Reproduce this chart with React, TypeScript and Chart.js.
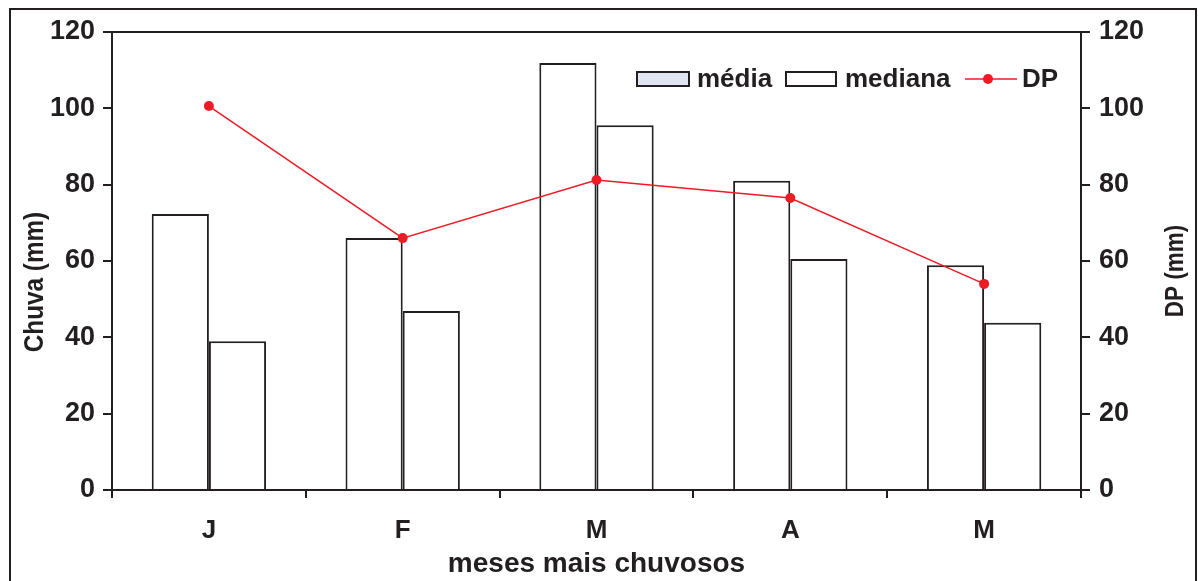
import React, { useEffect, useRef } from "react";
import { Chart, registerables } from "chart.js";

Chart.register(...registerables);

// Rainiest months and their rainfall statistics (mm)
const months = ["J", "F", "M", "A", "M"];
const media = [72.3, 66.0, 111.9, 81.0, 58.9];
const mediana = [39.0, 46.9, 95.6, 60.5, 43.8];
const dp = [100.6, 66.0, 81.2, 76.5, 54.0];
const yTicks = [0, 20, 40, 60, 80, 100, 120];

const INK = "#231f20";
const RED = "#ed1c24";
const FONT = "'Liberation Sans', Arial, sans-serif";

// Vertical axis title, slightly condensed along its length
function drawVerticalTitle(ctx: any, text: string, x: number, y: number, size: number) {
  ctx.save();
  ctx.translate(x, y);
  ctx.rotate(-Math.PI / 2);
  ctx.scale(0.9, 1);
  ctx.font = `bold ${size}px ${FONT}`;
  ctx.fillStyle = INK;
  ctx.textAlign = "center";
  ctx.textBaseline = "alphabetic";
  ctx.fillText(text, 0, 0);
  ctx.restore();
}

// Outer frame, top border of the plot box, axis titles and the inline legend
const decorPlugin = {
  id: "decor",
  beforeDraw(chart: any) {
    const { ctx, width } = chart;
    ctx.save();
    ctx.fillStyle = "#ffffff";
    ctx.fillRect(0, 0, width, chart.height);
    ctx.strokeStyle = INK;
    ctx.lineWidth = 2;
    ctx.beginPath();
    ctx.moveTo(10, 600);
    ctx.lineTo(10, 9);
    ctx.lineTo(width - 2, 9);
    ctx.lineTo(width - 2, 600);
    ctx.stroke();
    ctx.restore();
  },
  afterDraw(chart: any) {
    const { ctx, chartArea } = chart;
    ctx.save();
    ctx.strokeStyle = INK;
    ctx.lineWidth = 2;
    ctx.beginPath();
    ctx.moveTo(chartArea.left, chartArea.top);
    ctx.lineTo(chartArea.right, chartArea.top);
    ctx.stroke();

    const midY = (chartArea.top + chartArea.bottom) / 2;
    drawVerticalTitle(ctx, "Chuva (mm)", 43, midY + 21, 27);
    drawVerticalTitle(ctx, "DP (mm)", chartArea.right + 102, midY + 10, 25);

    const y = 79;
    const x0 = chartArea.right - 444;
    ctx.font = `bold 26px ${FONT}`;
    ctx.textBaseline = "middle";

    // média
    ctx.fillStyle = "#dfe5f2";
    ctx.fillRect(x0, y - 7, 52, 14);
    ctx.strokeStyle = INK;
    ctx.lineWidth = 2;
    ctx.strokeRect(x0, y - 7, 52, 14);
    ctx.fillStyle = INK;
    ctx.fillText("média", x0 + 60, y + 1);

    // mediana
    const x1 = x0 + 149;
    ctx.fillStyle = "#ffffff";
    ctx.fillRect(x1, y - 7, 50, 14);
    ctx.strokeRect(x1, y - 7, 50, 14);
    ctx.fillStyle = INK;
    ctx.fillText("mediana", x1 + 59, y + 1);

    // DP
    const x2 = x0 + 328;
    ctx.strokeStyle = RED;
    ctx.lineWidth = 1.5;
    ctx.beginPath();
    ctx.moveTo(x2, y);
    ctx.lineTo(x2 + 52, y);
    ctx.stroke();
    ctx.fillStyle = RED;
    ctx.beginPath();
    ctx.arc(x2 + 23, y, 5, 0, Math.PI * 2);
    ctx.fill();
    ctx.fillStyle = INK;
    ctx.fillText("DP", x2 + 57, y + 1);
    ctx.restore();
  },
};

export default function App() {
  const ref = useRef<HTMLCanvasElement | null>(null);

  useEffect(() => {
    if (!ref.current) return;
    const tickFont = { family: FONT, size: 27, weight: "bold" as const };
    const xTickFont = { family: FONT, size: 26, weight: "bold" as const };
    const titleFont = { family: FONT, size: 28, weight: "bold" as const };
    const chart = new Chart(ref.current, {
      type: "bar",
      data: {
        labels: months,
        datasets: [
          {
            type: "line",
            label: "DP",
            data: dp,
            yAxisID: "y2",
            borderColor: RED,
            backgroundColor: RED,
            borderWidth: 1.5,
            pointRadius: 5,
            pointBackgroundColor: RED,
            pointBorderWidth: 0,
            order: 0,
          } as any,
          {
            label: "média",
            data: media,
            yAxisID: "y",
            backgroundColor: "#ffffff",
            borderColor: INK,
            borderWidth: 2,
            order: 1,
          },
          {
            label: "mediana",
            data: mediana,
            yAxisID: "y",
            backgroundColor: "#ffffff",
            borderColor: INK,
            borderWidth: 2,
            order: 1,
          },
        ],
      },
      options: {
        animation: false,
        responsive: false,
        maintainAspectRatio: false,
        layout: { padding: { top: 32, left: 0, right: 0, bottom: 0 } },
        datasets: { bar: { categoryPercentage: 0.59, barPercentage: 1 } },
        plugins: { legend: { display: false }, tooltip: { enabled: false } },
        scales: {
          x: {
            grid: {
              offset: true,
              drawOnChartArea: false,
              drawTicks: true,
              tickLength: 8,
              color: INK,
              lineWidth: 2,
            },
            border: { color: INK, width: 2 },
            ticks: { color: INK, font: xTickFont, padding: 17 },
            title: {
              display: true,
              text: "meses mais chuvosos",
              color: INK,
              font: titleFont,
              padding: { top: 0, bottom: 0 },
            },
            afterFit: (s: any) => {
              s.height = 91;
            },
          },
          y: {
            position: "left",
            min: 0,
            max: 120,
            afterBuildTicks: (s: any) => {
              s.ticks = yTicks.map((v) => ({ value: v }));
            },
            grid: {
              drawOnChartArea: false,
              tickLength: 9,
              color: INK,
              lineWidth: 2,
            },
            border: { color: INK, width: 2 },
            ticks: { color: INK, font: tickFont, padding: 8 },
            afterFit: (s: any) => {
              s.width = 112;
            },
          },
          y2: {
            position: "right",
            min: 0,
            max: 120,
            afterBuildTicks: (s: any) => {
              s.ticks = yTicks.map((v) => ({ value: v }));
            },
            grid: {
              drawOnChartArea: false,
              tickLength: 9,
              color: INK,
              lineWidth: 2,
            },
            border: { color: INK, width: 2 },
            ticks: { color: INK, font: tickFont, padding: 9 },
            afterFit: (s: any) => {
              s.width = 117;
            },
          },
        },
      },
      plugins: [decorPlugin],
    });
    return () => chart.destroy();
  }, []);

  return (
    <div style={{ position: "fixed", left: 0, top: 0, width: 1198, height: 581, background: "#fff" }}>
      <canvas ref={ref} width={1198} height={581} style={{ display: "block" }} />
    </div>
  );
}
